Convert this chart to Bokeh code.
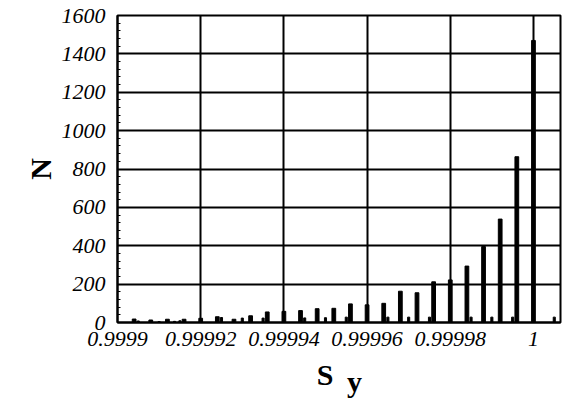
from bokeh.plotting import figure
from bokeh.models import Range1d, FixedTicker
from bokeh.layouts import column
from bokeh.core.properties import value
from bokeh.embed import file_html
from bokeh.resources import INLINE

# main histogram bars (S_y value, count N)
main_x = [0.999904, 0.999908, 0.999912, 0.999916, 0.999920, 0.999924, 0.999928,
          0.999932, 0.999936, 0.999940, 0.999944, 0.999948, 0.999952, 0.999956,
          0.999960, 0.999964, 0.999968, 0.999972, 0.999976, 0.999980, 0.999984,
          0.999988, 0.999992, 0.999996, 1.000000]
main_n = [18, 13, 17, 17, 22, 30, 17, 35, 55, 58, 62, 72, 74, 97,
          92, 100, 163, 155, 212, 222, 294, 396, 539, 864, 1470]

# small secondary bars
sec_x = [0.999905, 0.999910, 0.9999137, 0.999915, 0.999925, 0.999930, 0.999935,
         0.999945, 0.999950, 0.999955, 0.999965, 0.999970, 0.999975,
         0.999985, 0.999990, 0.999995, 1.000005]
sec_n = [8, 5, 6, 9, 26, 23, 23, 24, 25, 28, 28, 28, 28, 28, 28, 28, 28]

x_ticks = [0.9999, 0.99992, 0.99994, 0.99996, 0.99998, 1.0]
x_tick_labels = ["0.9999", "0.99992", "0.99994", "0.99996", "0.99998", "1"]
y_ticks = [0, 200, 400, 600, 800, 1000, 1200, 1400, 1600]

p = figure(width=562, height=352, output_backend="svg", toolbar_location=None,
           x_range=Range1d(0.9999, 1.0000065), y_range=Range1d(0, 1600),
           min_border_left=117, min_border_right=2, min_border_top=15,
           min_border_bottom=30)
p.background_fill_color = "white"
p.border_fill_color = "white"
p.outline_line_color = "black"
p.outline_line_width = 2

p.vbar(x=main_x, top=main_n, width=0.0000009, bottom=0, color="black")
p.vbar(x=sec_x, top=sec_n, width=0.0000005, bottom=0, color="black")

for ax in (p.xaxis[0], p.yaxis[0]):
    ax.axis_line_color = "black"
    ax.axis_line_width = 2
    ax.major_tick_in = 6
    ax.major_tick_out = 0
    ax.minor_tick_in = 3
    ax.minor_tick_out = 0
    ax.major_tick_line_color = "black"
    ax.minor_tick_line_color = "black"
    ax.major_label_text_font = "Liberation Serif"
    ax.major_label_text_font_style = "italic"
    ax.major_label_text_font_size = "22px"
    ax.major_label_text_color = "black"

p.xaxis[0].ticker = FixedTicker(ticks=x_ticks, minor_ticks=[])
p.xaxis[0].major_label_overrides = dict(zip(x_ticks, x_tick_labels))
p.xaxis[0].major_label_standoff = 9

p.yaxis[0].ticker = FixedTicker(ticks=y_ticks, minor_ticks=list(range(0, 1601, 40)))
p.yaxis[0].major_label_standoff = 12
p.yaxis[0].axis_label = "N"
p.yaxis[0].axis_label_text_font = "Liberation Serif"
p.yaxis[0].axis_label_text_font_style = "bold"
p.yaxis[0].axis_label_text_font_size = "30px"
p.yaxis[0].axis_label_text_color = "black"
p.yaxis[0].axis_label_standoff = 2

p.xgrid.grid_line_color = "black"
p.xgrid.grid_line_width = 2
p.ygrid.grid_line_color = "black"
p.ygrid.grid_line_width = 2

# x-axis title "S_y" drawn as real text in a strip below the chart
# (the strip's frame is aligned with the main frame, so its x range is in page pixels)
p2 = figure(width=562, height=54, output_backend="svg", toolbar_location=None,
            x_range=Range1d(117, 560), y_range=Range1d(0, 54),
            x_axis_location=None, y_axis_location=None,
            min_border_left=117, min_border_right=2, min_border_top=0,
            min_border_bottom=0)
p2.outline_line_color = None
p2.xgrid.visible = False
p2.ygrid.visible = False
p2.text(x=[324.5], y=[32], text=["S"], text_font=value("Liberation Serif"),
        text_font_style="bold", text_font_size="30px", text_align="center",
        text_baseline="alphabetic", text_color="black")
p2.text(x=[354], y=[25], text=["y"], text_font=value("Liberation Serif"),
        text_font_style="bold", text_font_size="30px", text_align="center",
        text_baseline="alphabetic", text_color="black")

layout = column(p, p2, spacing=0)
open("out.html", "w").write(file_html(layout, INLINE))
